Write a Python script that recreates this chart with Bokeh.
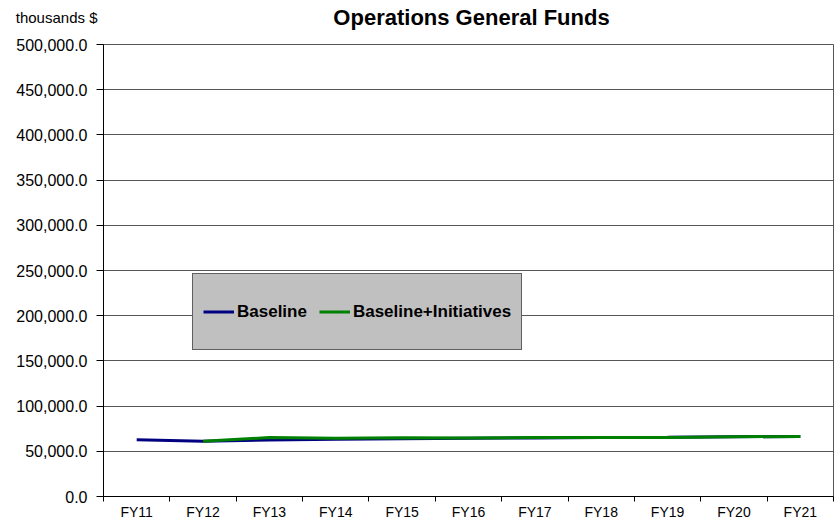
from bokeh.plotting import figure
from bokeh.layouts import column
from bokeh.models import (FixedTicker, NumeralTickFormatter, Range1d, Legend, LegendItem,
                          ColumnDataSource, LinearAxis)
from bokeh.core.properties import value
from bokeh.embed import file_html
from bokeh.resources import INLINE
import numpy as np

categories = ["FY11", "FY12", "FY13", "FY14", "FY15", "FY16", "FY17", "FY18", "FY19", "FY20", "FY21"]
baseline = [62800, 61000, 62600, 63300, 63900, 64400, 64800, 65200, 65600, 66100, 66400]
baseline_initiatives = [np.nan, 61000, 65200, 64300, 65000, 64700, 65200, 65300, 65400, 66100, 66400]
y_ticks = [0, 50000, 100000, 150000, 200000, 250000, 300000, 350000, 400000, 450000, 500000]
title_text = "Operations General Funds"
unit_text = "thousands $"

FONT = "Liberation Sans"
FRAME_W = 730

# ---- header strip (title and unit caption); its frame lines up with the chart's ----
head = figure(width=840, height=34, output_backend="svg", toolbar_location=None,
              x_range=Range1d(0, FRAME_W), y_range=Range1d(0, 34),
              x_axis_type=None, y_axis_type=None,
              min_border_left=103, min_border_right=7, min_border_top=0, min_border_bottom=0)
head.outline_line_color = None
head.background_fill_color = "white"
head.border_fill_color = "white"
head.xgrid.grid_line_color = None
head.ygrid.grid_line_color = None
unit_axis = LinearAxis(ticker=FixedTicker(ticks=[]), axis_label=unit_text,
                       axis_label_orientation="horizontal", axis_label_standoff=6,
                       axis_line_color=None, major_tick_line_color=None,
                       minor_tick_line_color=None, major_label_text_alpha=0)
unit_axis.axis_label_text_font = FONT
unit_axis.axis_label_text_font_size = "15px"
unit_axis.axis_label_text_font_style = "normal"
unit_axis.axis_label_text_color = "black"
head.add_layout(unit_axis, "left")
head.text(x=[368], y=[17], text=[title_text], text_font=value(FONT), text_font_size="22px",
          text_font_style="bold", text_color="black", text_align="center",
          text_baseline="middle")

# ---- main chart ----
centers = [i + 0.5 for i in range(len(categories))]
bounds = [float(i) for i in range(len(categories) + 1)]

src = ColumnDataSource(dict(x=centers, b=baseline, bi=baseline_initiatives))

p = figure(width=840, height=488, output_backend="svg", toolbar_location=None,
           x_range=Range1d(0, len(categories)), y_range=Range1d(0, 500000),
           min_border_left=103, min_border_right=7, min_border_top=10, min_border_bottom=25)
p.background_fill_color = "white"
p.border_fill_color = "white"
p.outline_line_color = "#555555"

# x axis: labels at category centres, tick marks between categories
xa = p.xaxis[0]
xa.ticker = FixedTicker(ticks=centers, minor_ticks=bounds)
xa.major_label_overrides = {c: lab for c, lab in zip(centers, categories)}
xa.major_tick_in = 0
xa.major_tick_out = 0
xa.minor_tick_in = 0
xa.minor_tick_out = 5
xa.minor_tick_line_color = "black"
xa.axis_line_color = "black"
xa.major_label_standoff = 2
xa.major_label_text_font = FONT
xa.major_label_text_font_size = "14px"
xa.major_label_text_color = "black"

# y axis
ya = p.yaxis[0]
ya.ticker = FixedTicker(ticks=y_ticks)
ya.formatter = NumeralTickFormatter(format="0,0.0")
ya.major_tick_in = 0
ya.major_tick_out = 7
ya.minor_tick_line_color = None
ya.axis_line_color = "black"
ya.major_tick_line_color = "black"
ya.major_label_standoff = 9
ya.major_label_text_font = FONT
ya.major_label_text_font_size = "16px"
ya.major_label_text_color = "black"

p.xgrid.grid_line_color = None
p.ygrid.grid_line_color = "#555555"
p.ygrid.grid_line_alpha = 1.0

r1 = p.line("x", "b", source=src, line_color="#000080", line_width=3)
r2 = p.line("x", "bi", source=src, line_color="#008000", line_width=3)

legend = Legend(items=[LegendItem(label="Baseline", renderers=[r1]),
                       LegendItem(label="Baseline+Initiatives", renderers=[r2])],
                orientation="horizontal", location=(89, 146))
legend.background_fill_color = "#c0c0c0"
legend.background_fill_alpha = 1.0
legend.border_line_color = "black"
legend.border_line_width = 1
legend.label_text_font = FONT
legend.label_text_font_size = "17px"
legend.label_text_font_style = "bold"
legend.label_text_color = "black"
legend.glyph_width = 31
legend.label_standoff = 3
legend.spacing = 12
legend.padding = 10
legend.margin = 0
legend.label_height = 55
legend.glyph_height = 55
p.add_layout(legend, "center")

layout = column(head, p, spacing=0)
open("out.html", "w").write(file_html(layout, INLINE))
